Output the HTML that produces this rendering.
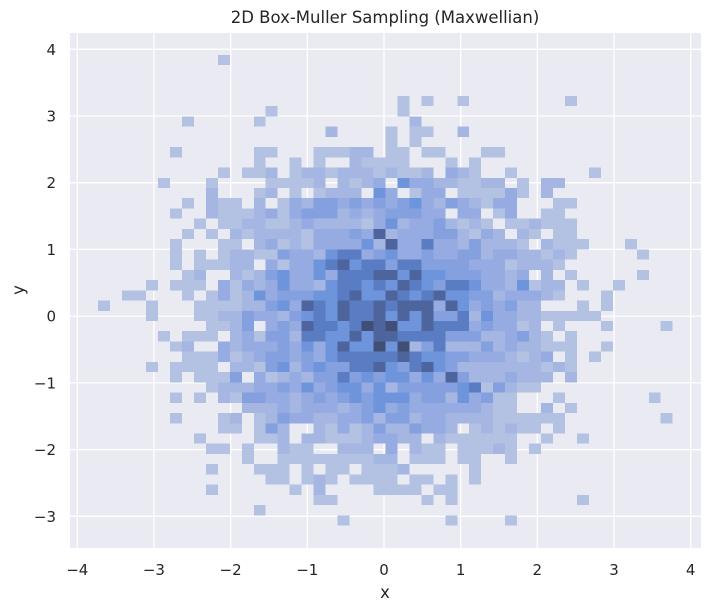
<!DOCTYPE html>
<html><head><meta charset="utf-8">
<style>
html,body{margin:0;padding:0;background:#fff;}
svg{display:block;}
text{font-family:"DejaVu Sans","Liberation Sans",sans-serif;fill:#262626;}
</style></head><body>
<svg id="s" width="711" height="611" viewBox="0 0 711 611" xmlns="http://www.w3.org/2000/svg">
<rect x="0" y="0" width="711" height="611" fill="#fff"/>
<rect x="70" y="33" width="631" height="515" fill="#eaeaf2"/>
<g stroke="#fff" stroke-width="1.3">
<line x1="77.3" y1="33" x2="77.3" y2="548"/>
<line x1="153.9" y1="33" x2="153.9" y2="548"/>
<line x1="230.6" y1="33" x2="230.6" y2="548"/>
<line x1="307.3" y1="33" x2="307.3" y2="548"/>
<line x1="384" y1="33" x2="384" y2="548"/>
<line x1="460.7" y1="33" x2="460.7" y2="548"/>
<line x1="537.3" y1="33" x2="537.3" y2="548"/>
<line x1="614" y1="33" x2="614" y2="548"/>
<line x1="690.7" y1="33" x2="690.7" y2="548"/>
<line x1="70" y1="49.3" x2="701" y2="49.3"/>
<line x1="70" y1="116" x2="701" y2="116"/>
<line x1="70" y1="182.7" x2="701" y2="182.7"/>
<line x1="70" y1="249.4" x2="701" y2="249.4"/>
<line x1="70" y1="316.1" x2="701" y2="316.1"/>
<line x1="70" y1="382.9" x2="701" y2="382.9"/>
<line x1="70" y1="449.6" x2="701" y2="449.6"/>
<line x1="70" y1="516.3" x2="701" y2="516.3"/>
</g>
<g id="cells" shape-rendering="crispEdges"></g>
<text x="385" y="23" font-size="16.5" text-anchor="middle">2D Box-Muller Sampling (Maxwellian)</text>
<g font-size="15" text-anchor="middle">
<text x="77.3" y="575">−4</text>
<text x="153.9" y="575">−3</text>
<text x="230.6" y="575">−2</text>
<text x="307.3" y="575">−1</text>
<text x="384" y="575">0</text>
<text x="460.7" y="575">1</text>
<text x="537.3" y="575">2</text>
<text x="614" y="575">3</text>
<text x="690.7" y="575">4</text>
</g>
<g font-size="15" text-anchor="end">
<text x="56" y="54.8">4</text>
<text x="56" y="121.5">3</text>
<text x="56" y="188.2">2</text>
<text x="56" y="254.9">1</text>
<text x="56" y="321.6">0</text>
<text x="56" y="388.4">−1</text>
<text x="56" y="455.1">−2</text>
<text x="56" y="521.8">−3</text>
</g>
<text x="385" y="598" font-size="16.5" text-anchor="middle">x</text>
<text x="0" y="0" font-size="16.5" text-anchor="middle" transform="translate(24,290) rotate(-90)">y</text>
</svg>
<script>
(function(){
var C=["","#b3c2e2","#a5b6e3","#95abe2","#84a0df","#6e95dc","#5a7cc3","#4d649d","#414e76"];
var R={
0:[[10,"1"]],
4:[[25,"1"],[27,"1"],[30,"1"],[39,"1"]],
5:[[14,"1"],[25,"1"]],
6:[[7,"1"],[13,"1"],[26,"2"]],
7:[[19,"2"],[24,"1011"],[30,"2"]],
8:[[24,"101"]],
9:[[6,"1"],[13,"11"],[18,"11122"],[24,"11011"],[32,"11"]],
10:[[13,"1"],[16,"1"],[18,"1"],[21,"21111"],[29,"1"],[31,"1"]],
11:[[10,"1"],[12,"112"],[16,"1221222121120321"],[34,"1"],[41,"1"]],
12:[[5,"1"],[9,"1"],[14,"11"],[16,"1120212305332211"],[32,"22"],[35,"1"],[37,"22"]],
13:[[9,"2"],[13,"12"],[16,"1012220530133011"],[32,"1131"],[37,"2"]],
14:[[7,"1"],[9,"211"],[13,"2"],[15,"1"],[16,"3244343434532432"],[32,"133"],[38,"11"]],
15:[[6,"1"],[9,"2111231"],[16,"3444232344433033"],[33,"13"],[37,"11"]],
16:[[8,"10112211"],[16,"2322221352334212"],[32,"10112111"]],
17:[[7,"101021222"],[16,"2133343723334421"],[32,"32021011"]],
18:[[6,"1000110231"],[16,"2133335273363324"],[32,"2221021110001"]],
19:[[6,"1010122114"],[16,"3325663453343344"],[32,"23322121000001"]],
20:[[6,"1011122031"],[16,"3356756646644443"],[32,"3312221"]],
21:[[7,"120021245"],[16,"3353666775755444"],[32,"33230201000001"]],
22:[[4,"101110313235"],[16,"3325665657654665"],[32,"332512201001"]],
23:[[2,"11000101312534"],[16,"4455675576567554"],[32,"42333210001"]],
24:[[0,"1000100011112245"],[16,"3765766767773753"],[32,"43422000101"]],
25:[[4,"100011224332"],[16,"4565766757574462"],[32,"5332211111"]],
26:[[9,"1124034"],[16,"3766568785576663"],[32,"4331201000100001"]],
27:[[5,"10111023144"],[16,"2665575776666444"],[32,"22342101"]],
28:[[6,"1200323334"],[16,"3535755858246222"],[32,"42322111001"]],
29:[[7,"111312344"],[16,"3435666667655443"],[32,"3321230101"]],
30:[[4,"101111022145"],[16,"2454466754675422"],[32,"22222121"]],
31:[[6,"1011140312"],[16,"3244645455353742"],[32,"22322202"]],
32:[[9,"1222334"],[16,"3534553524444456"],[32,"14211"]],
33:[[6,"1010214433"],[16,"2343454555344253"],[32,"411000100000001"]],
34:[[12,"2223"],[16,"2333234534333333"],[32,"21100201"]],
35:[[6,"1000120124"],[16,"3322334244233222"],[32,"2111111000000001"]],
36:[[10,"110142"],[16,"0021312422433201"],[32,"2121101"]],
37:[[8,"10000112"],[16,"0221112332202111"],[32,"111001001"]],
38:[[9,"1101002"],[16,"1100222030211011"],[32,"12101"]],
39:[[12,"1001"],[16,"1111111220111011"],[34,"1"]],
40:[[9,"1000111"],[16,"0101101112000001"]],
41:[[14,"11"],[16,"0121011110110101"]],
42:[[9,"1"],[16,"1020000111101100"]],
43:[[16,"0011000000010100"],[40,"1"]],
44:[[13,"1"]],
45:[[20,"1"],[29,"1"],[34,"1"]]
};
var g=document.getElementById("cells");
var NS="http://www.w3.org/2000/svg";
var x0=98.15,w=11.97,y0=55,h=10.23;
for(var r in R){
  var segs=R[r];
  for(var s=0;s<segs.length;s++){
    var st=segs[s][0],str=segs[s][1];
    for(var k=0;k<str.length;k++){
      var v=parseInt(str.charAt(k),10);
      if(!v)continue;
      var i=st+k;
      var e=document.createElementNS(NS,"rect");
      e.setAttribute("x",(x0+w*i).toFixed(2));
      e.setAttribute("y",(y0+h*(+r)).toFixed(2));
      e.setAttribute("width",w.toFixed(2));
      e.setAttribute("height",h.toFixed(2));
      e.setAttribute("fill",C[v]);
      g.appendChild(e);
    }
  }
}
})();
</script>
</body></html>
